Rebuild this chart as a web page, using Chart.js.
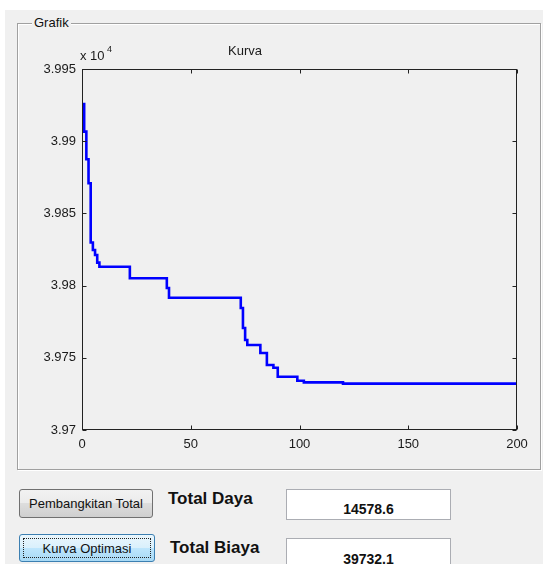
<!DOCTYPE html>
<html lang="id">
<head>
    <meta charset="UTF-8">
    <title>Kurva Optimasi</title>
    <script src="https://cdn.jsdelivr.net/npm/chart.js"></script>
    <style>
        body { margin: 0; padding: 0; background: #fff; font-family: "Liberation Sans", Arial, sans-serif; }
        #panel { position: absolute; left: 5px; top: 10px; width: 538px; height: 554px; background: #f0f0f0; overflow: hidden; }
        .group { position: absolute; left: 12px; top: 13px; width: 522px; height: 445px; border: 1px solid #a0a0a0; box-shadow: inset 1px 1px 0 #fff, 1px 1px 0 #fff; }
        .group-title { position: absolute; left: 27px; top: 5px; padding: 0 2px; background: #f0f0f0; font-size: 13px; color: #111; line-height: 16px; }
        canvas { position: absolute; left: -5px; top: -10px; }
        .btn { position: absolute; box-sizing: border-box; font-size: 13px; color: #111; text-align: center; border-radius: 3px; }
        #btnTotal { left: 14px; top: 479px; width: 134px; height: 29px; line-height: 27px; border: 1px solid #707070;
            background: linear-gradient(#f2f2f2, #ebebeb 50%, #dddddd 50%, #cfcfcf); }
        #btnKurva { left: 14px; top: 524px; width: 136px; height: 28px; line-height: 26px; border: 1px solid #3c7fb1;
            background: linear-gradient(#eaf6fd, #d9f0fc 50%, #bee6fd 50%, #a7d9f5); }
        #btnKurva span { position: absolute; left: 3px; top: 3px; right: 3px; bottom: 3px; border: 1px dotted #222; line-height: 20px; }
        .lbl { position: absolute; font-size: 17px; font-weight: bold; color: #111; line-height: 17px; white-space: nowrap; }
        .box { position: absolute; box-sizing: border-box; left: 281px; width: 165px; height: 31px; background: #fff; border: 1px solid #abadb3; }
        .val { position: absolute; left: 0; right: 0; text-align: center; font-size: 14px; font-weight: bold; color: #111; line-height: 14px; }
    </style>
</head>
<body>
<div id="panel">
    <div class="group"></div>
    <div class="group-title">Grafik</div>
    <canvas id="kurvaChart" width="543" height="470"></canvas>

    <div class="btn" id="btnTotal">Pembangkitan Total</div>
    <div class="btn" id="btnKurva"><span>Kurva Optimasi</span></div>

    <div class="lbl" style="left:163px; top:480px;">Total Daya</div>
    <div class="lbl" style="left:165px; top:529px;">Total Biaya</div>

    <div class="box" style="top:479px;"><div class="val" style="top:12px;" id="totalDaya"></div></div>
    <div class="box" style="top:528px;"><div class="val" style="top:13px;" id="totalBiaya"></div></div>
</div>

<script>
    // iterasi tempat nilai biaya terbaik berubah, dan nilai barunya
    const iterasi = [0, 1, 2, 3, 4, 5, 6, 7, 8, 22, 39, 40, 73, 74, 75, 76, 82, 85, 88, 90, 99, 102, 120, 200];
    const biaya = [39925.8, 39906.6, 39887.5, 39870.9, 39829.8, 39824.7, 39821.2, 39815.9, 39813.1,
        39805.1, 39798.3, 39791.6, 39784.5, 39770.6, 39762.3, 39758.9, 39753.3, 39745.0, 39743.1,
        39736.9, 39734.1, 39733.0, 39732.1, 39732.1];
    const xTicks = [0, 50, 100, 150, 200];
    const yTicks = [39700, 39750, 39800, 39850, 39900, 39950];
    const totalDaya = 14578.6;
    const totalBiaya = biaya[biaya.length - 1];

    document.getElementById("totalDaya").textContent = totalDaya.toFixed(1);
    document.getElementById("totalBiaya").textContent = totalBiaya.toFixed(1);

    const points = iterasi.map((it, i) => ({ x: it, y: biaya[i] }));

    // kotak sumbu bergaya MATLAB: garis tepi, tick ke dalam, pengali dan judul
    const axesBox = {
        id: 'axesBox',
        afterDraw(chart) {
            const { ctx, chartArea: a, scales } = chart;
            const l = a.left + 0.5, t = a.top + 0.5, r = a.right - 0.5, b = a.bottom - 0.5;
            ctx.save();
            ctx.strokeStyle = '#222';
            ctx.lineWidth = 1;
            ctx.strokeRect(l, t, r - l, b - t);
            ctx.beginPath();
            xTicks.forEach(v => {
                const px = Math.round(scales.x.getPixelForValue(v)) + 0.5;
                ctx.moveTo(px, b); ctx.lineTo(px, b - 4);
                ctx.moveTo(px, t); ctx.lineTo(px, t + 4);
            });
            yTicks.forEach(v => {
                const py = Math.round(scales.y.getPixelForValue(v)) + 0.5;
                ctx.moveTo(l, py); ctx.lineTo(l + 4, py);
                ctx.moveTo(r, py); ctx.lineTo(r - 4, py);
            });
            ctx.stroke();

            ctx.fillStyle = '#1a1a1a';
            ctx.textBaseline = 'alphabetic';
            ctx.font = '13px "Liberation Sans", Arial, sans-serif';
            ctx.textAlign = 'left';
            ctx.fillText('x 10', a.left - 2, a.top - 9);
            ctx.font = '9px "Liberation Sans", Arial, sans-serif';
            ctx.fillText('4', a.left + 25, a.top - 17);
            ctx.font = '13px "Liberation Sans", Arial, sans-serif';
            ctx.textAlign = 'center';
            ctx.fillText('Kurva', 245, a.top - 14);
            ctx.restore();
        }
    };

    new Chart(document.getElementById("kurvaChart").getContext('2d'), {
        type: 'line',
        data: {
            datasets: [{
                data: points,
                borderColor: '#0000ff',
                borderWidth: 2.6,
                pointRadius: 0,
                stepped: true,
                fill: false
            }]
        },
        options: {
            responsive: false,
            animation: false,
            layout: { padding: { left: 0, right: 26, top: 69, bottom: 0 } },
            plugins: { legend: { display: false }, tooltip: { enabled: false } },
            scales: {
                x: {
                    type: 'linear', min: 0, max: 200,
                    grid: { display: false, drawTicks: false },
                    border: { display: false },
                    afterBuildTicks: s => { s.ticks = xTicks.map(v => ({ value: v })); },
                    afterFit: s => { s.height = 40; },
                    ticks: { padding: 7, color: '#1a1a1a', maxRotation: 0, font: { size: 13, family: '"Liberation Sans", Arial, sans-serif' } }
                },
                y: {
                    min: 39700, max: 39950,
                    grid: { display: false, drawTicks: false },
                    border: { display: false },
                    afterBuildTicks: s => { s.ticks = yTicks.map(v => ({ value: v })); },
                    afterFit: s => { s.width = 82; },
                    ticks: {
                        padding: 6, color: '#1a1a1a',
                        font: { size: 13, family: '"Liberation Sans", Arial, sans-serif' },
                        callback: v => Number((v / 1e4).toFixed(3)).toString()
                    }
                }
            }
        },
        plugins: [axesBox]
    });
</script>
</body>
</html>
